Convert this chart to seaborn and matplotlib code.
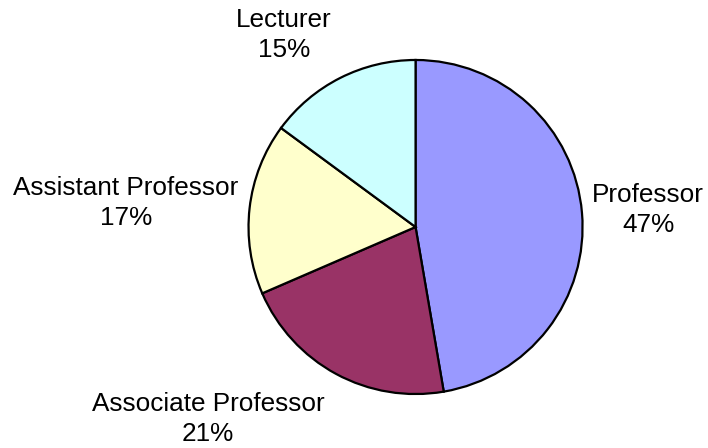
import matplotlib
matplotlib.use("Agg")
import matplotlib.pyplot as plt
import seaborn as sns

categories = ["Professor", "Associate Professor", "Assistant Professor", "Lecturer"]
shares = [47.3, 21.2, 16.6, 14.9]
colors = ["#9999FF", "#993366", "#FFFFCC", "#CCFFFF"]

sns.set_theme(style="white")
plt.rcParams["font.family"] = ["Liberation Sans", "DejaVu Sans"]

fig = plt.figure(figsize=(7.08, 4.48), dpi=100)
ax = fig.add_axes([0, 0, 1, 1])
palette = sns.color_palette(colors)

ax.pie(shares, colors=palette, startangle=90, counterclock=False,
       wedgeprops=dict(edgecolor="black", linewidth=1.6), radius=1.0)

# label anchor points (data coords, pie radius = 1)
label_pos = [(1.392, 0.102), (-1.243, -1.147), (-1.734, 0.144), (-0.787, 1.150)]
for cat, val, (x, y) in zip(categories, shares, label_pos):
    ax.text(x, y, f"{cat}\n{val:.0f}%", ha="center", va="center",
            fontsize=18.8, color="black", linespacing=1.32)

ax.set_xlim(-2.488, 1.751)
ax.set_ylim(-1.323, 1.359)
ax.set_aspect("equal")
ax.axis("off")

fig.savefig("out.png", dpi=100, facecolor="white")
